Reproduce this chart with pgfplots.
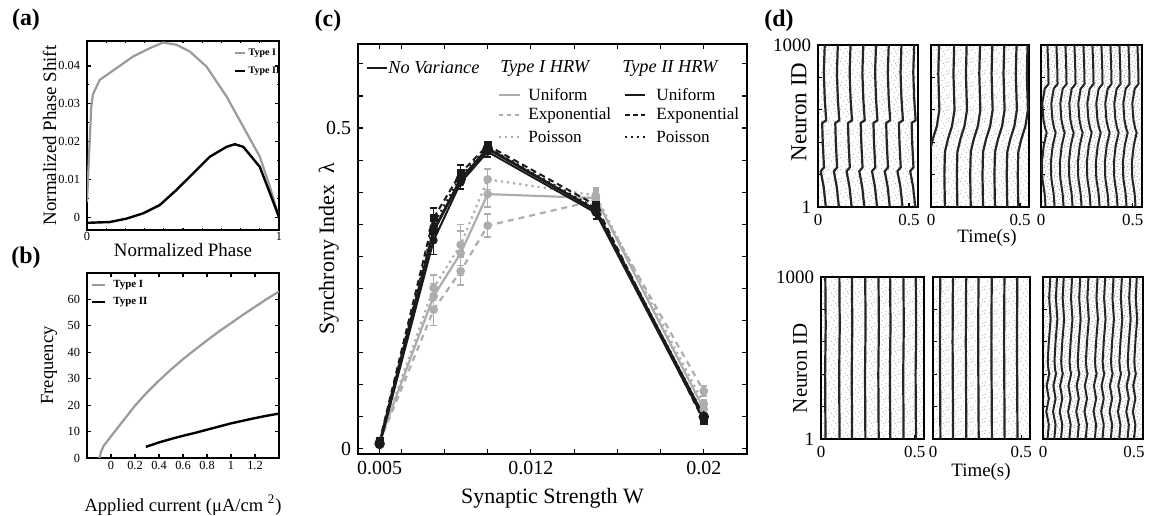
\documentclass[border=0pt]{standalone}
\usepackage{fontspec}
\setmainfont{Liberation Serif}
\usepackage{pgfplots}
\usepackage{pgfplotstable}
\pgfplotsset{compat=1.18}
\usetikzlibrary{patterns}

% background spike speckle for the raster panels
\pgfdeclarepatternformonly{spksparse}{\pgfpoint{-0.5bp}{-0.5bp}}{\pgfpoint{6.5bp}{6.5bp}}{\pgfpoint{6bp}{6bp}}{%
  \pgfpathcircle{\pgfpoint{0.6bp}{0.9bp}}{0.3bp}%
  \pgfpathcircle{\pgfpoint{3.1bp}{1.7bp}}{0.3bp}%
  \pgfpathcircle{\pgfpoint{5.3bp}{0.4bp}}{0.3bp}%
  \pgfpathcircle{\pgfpoint{1.7bp}{3.4bp}}{0.3bp}%
  \pgfpathcircle{\pgfpoint{4.4bp}{3.0bp}}{0.3bp}%
  \pgfpathcircle{\pgfpoint{0.3bp}{5.2bp}}{0.3bp}%
  \pgfpathcircle{\pgfpoint{2.8bp}{5.6bp}}{0.3bp}%
  \pgfpathcircle{\pgfpoint{5.0bp}{4.9bp}}{0.3bp}%
  \pgfpathcircle{\pgfpoint{3.7bp}{4.2bp}}{0.3bp}%
  \pgfusepath{fill}}
\pgfdeclarepatternformonly{spkdense}{\pgfpoint{-0.5bp}{-0.5bp}}{\pgfpoint{5.5bp}{5.5bp}}{\pgfpoint{5bp}{5bp}}{%
  \pgfpathcircle{\pgfpoint{0.5bp}{0.8bp}}{0.3bp}%
  \pgfpathcircle{\pgfpoint{2.2bp}{0.3bp}}{0.3bp}%
  \pgfpathcircle{\pgfpoint{4.1bp}{1.2bp}}{0.3bp}%
  \pgfpathcircle{\pgfpoint{1.3bp}{2.3bp}}{0.3bp}%
  \pgfpathcircle{\pgfpoint{3.0bp}{2.6bp}}{0.3bp}%
  \pgfpathcircle{\pgfpoint{4.7bp}{3.2bp}}{0.3bp}%
  \pgfpathcircle{\pgfpoint{0.4bp}{4.1bp}}{0.3bp}%
  \pgfpathcircle{\pgfpoint{2.1bp}{4.4bp}}{0.3bp}%
  \pgfpathcircle{\pgfpoint{3.7bp}{4.7bp}}{0.3bp}%
  \pgfpathcircle{\pgfpoint{2.6bp}{1.5bp}}{0.3bp}%
  \pgfusepath{fill}}

\definecolor{typeone}{HTML}{9A9A9A}
\definecolor{hrwone}{HTML}{ADADAD}
\definecolor{hrwtwo}{HTML}{1A1A1A}

\tikzset{keytext/.style={anchor=west, inner sep=0, font=\fontsize{8.6}{10}\selectfont}}

\pgfplotsset{
  /pgf/number format/assume math mode=true,
  frame/.style={scale only axis, tick align=inside, axis line style={line width=0.9bp},
    every tick/.style={black, line width=0.6bp}, scaled ticks=false},
  raster/.style={frame, xmin=0, xmax=0.55, ymin=1, ymax=1000,
    xtick={0,0.5}, xticklabels={0,0.5}, ytick={1,1000}, yticklabels={,},
    extra y ticks={200,400,600,800}, extra y tick labels={},
    xtick pos=bottom, ytick pos=left, major tick length=2bp,
    xticklabel style={font=\fontsize{8.5}{10}\selectfont},
    yticklabel style={font=\fontsize{9.5}{11}\selectfont},
    width=50bp, height=81bp},
  band/.style={black!85, line width=1.1bp, no markers, line join=round},
  t1/.style={hrwone, line width=1.1bp, mark=*, mark size=1.6bp, mark options={solid, fill=hrwone, draw=hrwone}},
  t2/.style={hrwtwo, line width=1bp, mark=*, mark size=1.5bp, mark options={solid, fill=hrwtwo, draw=hrwtwo}},
  ebar/.style={error bars/.cd, y dir=both, y explicit,
    error bar style={line width=0.8bp, solid},
    error mark options={rotate=90, mark size=1.6bp, line width=0.8bp, solid}},
}

% band shapes (time offset, neuron index) for the raster panels
\pgfplotstableread{
t n
0 1000
-0.005 830
0.000 670
0.008 535
-0.014 520
-0.011 400
-0.004 245
-0.022 222
-0.006 126
0.006 1
}\dA
\pgfplotstableread{
t n
0 1000
-0.004 820
0.002 600
-0.012 500
-0.035 420
-0.052 340
-0.055 200
-0.052 1
}\dB
\pgfplotstableread{
t n
0 1000
0.004 880
0.006 760
-0.015 730
-0.028 640
-0.022 540
-0.012 485
-0.004 460
-0.020 380
-0.030 280
-0.028 180
-0.015 80
-0.010 1
}\dC
\pgfplotstableread{
t n
0 1000
0.002 700
-0.001 400
0.001 1
}\dD
\pgfplotstableread{
t n
0 1000
-0.002 600
0.001 1
}\dE
\pgfplotstableread{
t n
0 1000
-0.006 870
0.002 740
-0.008 600
-0.014 480
-0.010 425
-0.005 405
-0.020 330
-0.008 250
-0.022 170
-0.008 90
-0.015 1
}\dF

\begin{document}
\begin{tikzpicture}
\useasboundingbox (0,0) rectangle (578.5bp,-258bp);

% panel letters
\node[font=\fontsize{12}{14}\selectfont\bfseries] at (13bp,-10bp) {(a)};
\node[font=\fontsize{12}{14}\selectfont\bfseries] at (13bp,-129bp) {(b)};
\node[font=\fontsize{12}{14}\selectfont\bfseries] at (164bp,-10.5bp) {(c)};
\node[font=\fontsize{12}{14}\selectfont\bfseries] at (389.5bp,-10.5bp) {(d)};

% (a) phase response curves
\begin{axis}[frame, at={(43.5bp,-20.5bp)}, anchor=north west, width=96bp, height=94.5bp,
  xmin=0, xmax=1, ymin=-0.0034, ymax=0.0466,
  xtick={0,1}, xticklabels={0,1},
  ytick={0,0.01,0.02,0.03,0.04}, yticklabels={0,0.01,0.02,0.03,0.04},
  minor x tick num=9, minor y tick num=1,
  major tick length=2bp, minor tick length=1.2bp,
  tick label style={font=\fontsize{6.2}{7}\selectfont},
  xticklabel style={inner sep=1bp},
  xlabel={Normalized Phase}, ylabel={Normalized Phase Shift},
  label style={font=\fontsize{9.5}{11}\selectfont},
  xlabel style={at={(axis description cs:0.5,-0.106)}, anchor=center},
  ylabel style={at={(axis description cs:-0.195,0.5)}, anchor=center},
]
\addplot[typeone, line width=1.1bp] coordinates {
 (0,0.004) (0.012,0.018) (0.022,0.029) (0.031,0.0325) (0.066,0.0363) (0.153,0.0394)
 (0.24,0.0425) (0.327,0.0447) (0.397,0.0462) (0.466,0.0456) (0.536,0.0438)
 (0.623,0.0398) (0.727,0.0319) (0.814,0.0239) (0.9,0.016) (0.953,0.008) (1,0.0)};
\addplot[black, line width=1.2bp] coordinates {
 (0,-0.0015) (0.118,-0.0013) (0.205,-0.0004) (0.292,0.001) (0.379,0.0032)
 (0.466,0.0072) (0.553,0.0116) (0.64,0.016) (0.727,0.0186) (0.77,0.0193)
 (0.814,0.0186) (0.9,0.0133) (0.953,0.0063) (1,0.0)};
\draw[typeone, line width=1bp] (rel axis cs:0.77,0.937) -- (rel axis cs:0.823,0.937);
\draw[black, line width=1.1bp] (rel axis cs:0.77,0.841) -- (rel axis cs:0.823,0.841);
\node[anchor=west, inner sep=0, font=\fontsize{5}{6}\selectfont\bfseries] at (rel axis cs:0.84,0.937) {Type I};
\node[anchor=west, inner sep=0, font=\fontsize{5}{6}\selectfont\bfseries] at (rel axis cs:0.84,0.841) {Type II};
\end{axis}

% (b) frequency versus applied current
\begin{axis}[frame, at={(43.5bp,-136.5bp)}, anchor=north west, width=96bp, height=92.5bp,
  xmin=-0.2, xmax=1.4, ymin=0, ymax=70,
  xtick={0,0.2,0.4,0.6,0.8,1,1.2}, xticklabels={0,0.2,0.4,0.6,0.8,1,1.2},
  ytick={0,10,20,30,40,50,60},
  major tick length=2bp,
  tick label style={font=\fontsize{6.2}{7}\selectfont},
  xticklabel style={inner sep=1.5bp},
  xlabel={Applied current (μA/cm \textsuperscript{2})}, ylabel={Frequency},
  label style={font=\fontsize{9.3}{11}\selectfont},
  xlabel style={at={(axis description cs:0.5,-0.254)}, anchor=center},
  ylabel style={at={(axis description cs:-0.198,0.5)}, anchor=center},
]
\addplot[typeone, line width=1.1bp] coordinates {
 (-0.1,0) (-0.092,0.6) (-0.085,2.1) (-0.064,4.4) (0,8.2) (0.1,14) (0.2,19.8)
 (0.3,24.8) (0.4,29.3) (0.5,33.5) (0.6,37.4) (0.7,41) (0.8,44.5) (0.9,47.9)
 (1.0,51) (1.1,54.2) (1.2,57.2) (1.3,60.2) (1.4,63)};
\addplot[black, line width=1.2bp] coordinates {
 (0.29,4.2) (0.4,5.9) (0.5,7.2) (0.6,8.4) (0.7,9.5) (0.8,10.7) (0.9,11.9)
 (1.0,13.1) (1.1,14.1) (1.2,15.1) (1.3,16) (1.4,16.8)};
\draw[typeone, line width=1bp] (rel axis cs:0.026,0.935) -- (rel axis cs:0.094,0.935);
\draw[black, line width=1.1bp] (rel axis cs:0.026,0.845) -- (rel axis cs:0.094,0.845);
\node[anchor=west, inner sep=0, font=\fontsize{5.5}{6.5}\selectfont\bfseries] at (rel axis cs:0.135,0.935) {Type I};
\node[anchor=west, inner sep=0, font=\fontsize{5.5}{6.5}\selectfont\bfseries] at (rel axis cs:0.135,0.845) {Type II};
\end{axis}

% (c) synchrony index versus synaptic strength
\begin{axis}[frame, at={(179bp,-22bp)}, anchor=north west, width=194.5bp, height=205bp,
  xmin=0.004, xmax=0.022, ymin=-0.008, ymax=0.631,
  xtick={0.005,0.006,0.008,0.010,0.012,0.014,0.016,0.018,0.020},
  xticklabels={0.005,,,,0.012,,,,0.02},
  ytick={0,0.05,0.1,0.15,0.2,0.25,0.3,0.35,0.4,0.45,0.5,0.55,0.6},
  yticklabels={0,,,,,,,,,,0.5,,},
  major tick length=2.5bp, axis line style={line width=1.1bp},
  tick label style={font=\fontsize{10}{12}\selectfont},
  xlabel={Synaptic Strength W}, ylabel={Synchrony Index\ \ λ},
  label style={font=\fontsize{11}{13}\selectfont},
  xlabel style={at={(axis description cs:0.5,-0.107)}, anchor=center},
  ylabel style={at={(axis description cs:-0.075,0.5)}, anchor=center},
]
% Type I HRW
\addplot[t1, dash pattern=on 3bp off 2.5bp, ebar] coordinates {
 (0.005,0.010) +- (0,0.004) (0.0075,0.217) +- (0,0.025) (0.00875,0.277) +- (0,0.022)
 (0.010,0.348) +- (0,0.018) (0.015,0.387) +- (0,0.014) (0.020,0.090) +- (0,0.008)};
\addplot[t1, dotted, ebar] coordinates {
 (0.005,0.013) +- (0,0.004) (0.0075,0.251) +- (0,0.02) (0.00875,0.318) +- (0,0.032)
 (0.010,0.420) +- (0,0.016) (0.015,0.395) +- (0,0.012) (0.020,0.070) +- (0,0.006)};
\addplot[t1, ebar] coordinates {
 (0.005,0.012) +- (0,0.004) (0.0075,0.238) +- (0,0.02) (0.00875,0.305) +- (0,0.035)
 (0.010,0.397) +- (0,0.02) (0.015,0.391) +- (0,0.012) (0.020,0.062) +- (0,0.006)};
% Type II HRW
\addplot[t2, dotted, mark=triangle*, ebar] coordinates {
 (0.005,0.010) +- (0,0.004) (0.0075,0.350) +- (0,0.015) (0.00875,0.425) +- (0,0.01)
 (0.010,0.470) +- (0,0.006) (0.015,0.375) +- (0,0.01) (0.020,0.052) +- (0,0.006)};
\addplot[t2, dash pattern=on 3bp off 2bp, mark=square*, ebar] coordinates {
 (0.005,0.012) +- (0,0.006) (0.0075,0.360) +- (0,0.015) (0.00875,0.430) +- (0,0.012)
 (0.010,0.473) +- (0,0.006) (0.015,0.380) +- (0,0.015) (0.020,0.043) +- (0,0.005)};
\addplot[t2, ebar] coordinates {
 (0.005,0.006) +- (0,0.004) (0.0075,0.325) +- (0,0.022) (0.00875,0.415) +- (0,0.01)
 (0.010,0.463) +- (0,0.008) (0.015,0.368) +- (0,0.01) (0.020,0.046) +- (0,0.006)};
% no variance
\addplot[t2, line width=1.4bp, mark size=1.9bp] coordinates {
 (0.005,0.008) (0.0075,0.340) (0.00875,0.420) (0.010,0.468) (0.015,0.372) (0.020,0.050)};
% key
\draw[hrwtwo, line width=1.2bp] (rel axis cs:0.023,0.9415) -- (rel axis cs:0.074,0.9415);
\node[anchor=west, inner sep=0, font=\fontsize{9.2}{11}\selectfont\itshape] at (rel axis cs:0.077,0.9415) {No Variance};
\node[inner sep=0, font=\fontsize{9.2}{11}\selectfont\itshape] at (rel axis cs:0.48,0.9415) {Type I HRW};
\node[inner sep=0, font=\fontsize{9.2}{11}\selectfont\itshape] at (rel axis cs:0.802,0.9415) {Type II HRW};
\draw[hrwone, line width=1bp] (rel axis cs:0.362,0.876) -- (rel axis cs:0.416,0.876);
\draw[hrwone, line width=1bp, dash pattern=on 2.2bp off 1.8bp] (rel axis cs:0.362,0.827) -- (rel axis cs:0.416,0.827);
\draw[hrwone, line width=1bp, dotted] (rel axis cs:0.362,0.774) -- (rel axis cs:0.416,0.774);
\draw[hrwtwo, line width=1.1bp] (rel axis cs:0.687,0.876) -- (rel axis cs:0.738,0.876);
\draw[hrwtwo, line width=1.1bp, dash pattern=on 2.2bp off 1.8bp] (rel axis cs:0.687,0.827) -- (rel axis cs:0.738,0.827);
\draw[hrwtwo, line width=1bp, dotted] (rel axis cs:0.687,0.774) -- (rel axis cs:0.738,0.774);
\node[keytext] at (rel axis cs:0.437,0.876) {Uniform};
\node[keytext] at (rel axis cs:0.437,0.827) {Exponential};
\node[keytext] at (rel axis cs:0.437,0.774) {Poisson};
\node[keytext] at (rel axis cs:0.766,0.876) {Uniform};
\node[keytext] at (rel axis cs:0.766,0.827) {Exponential};
\node[keytext] at (rel axis cs:0.766,0.774) {Poisson};
\end{axis}

% (d) spike rasters, top row
\begin{axis}[raster, at={(409bp,-22.5bp)}, anchor=north west, yticklabels={1,1000},
  axis background/.style={pattern=spksparse, pattern color=black!32}]
\pgfplotsinvokeforeach{0.037,0.109,0.179,0.249,0.319,0.389,0.459,0.529}{
  \addplot[band] table[x expr=\thisrow{t}+#1, y=n]{\dA};}
\end{axis}
\begin{axis}[raster, at={(465.5bp,-22.5bp)}, anchor=north west, width=49bp,
  axis background/.style={pattern=spksparse, pattern color=black!32}]
\pgfplotsinvokeforeach{0.045,0.13,0.2,0.275,0.344,0.411,0.48,0.542}{
  \addplot[band] table[x expr=\thisrow{t}+#1, y=n]{\dB};}
\end{axis}
\begin{axis}[raster, at={(520.5bp,-22.5bp)}, anchor=north west, width=50.5bp,
  axis background/.style={pattern=spkdense, pattern color=black!40}]
\pgfplotsinvokeforeach{0.035,0.084,0.133,0.182,0.231,0.28,0.329,0.378,0.427,0.476,0.525}{
  \addplot[band, line width=1bp] table[x expr=\thisrow{t}+#1, y=n]{\dC};}
\end{axis}
\node[rotate=90, font=\fontsize{11.5}{13}\selectfont] at (399.5bp,-56bp) {Neuron ID};
\node[font=\fontsize{9.5}{11}\selectfont] at (493.5bp,-119bp) {Time(s)};

% (d) spike rasters, bottom row
\begin{axis}[raster, at={(410.5bp,-138.5bp)}, anchor=north west, width=51.5bp, yticklabels={1,1000},
  axis background/.style={pattern=spksparse, pattern color=black!32}]
\pgfplotsinvokeforeach{0.023,0.098,0.165,0.236,0.307,0.369,0.44,0.506}{
  \addplot[band] table[x expr=\thisrow{t}+#1, y=n]{\dD};}
\end{axis}
\begin{axis}[raster, at={(466.5bp,-138.5bp)}, anchor=north west, width=48.5bp,
  axis background/.style={pattern=spksparse, pattern color=black!32}]
\pgfplotsinvokeforeach{0.041,0.113,0.188,0.258,0.333,0.405,0.478}{
  \addplot[band] table[x expr=\thisrow{t}+#1, y=n]{\dE};}
\end{axis}
\begin{axis}[raster, at={(521.5bp,-138.5bp)}, anchor=north west, width=50bp,
  axis background/.style={pattern=spkdense, pattern color=black!40}]
\pgfplotsinvokeforeach{0.04,0.077,0.114,0.16,0.205,0.25,0.3,0.342,0.388,0.434,0.48,0.516}{
  \addplot[band, line width=1bp] table[x expr=\thisrow{t}+#1, y=n]{\dF};}
\end{axis}
\node[rotate=90, font=\fontsize{10.5}{12}\selectfont] at (400bp,-184bp) {Neuron ID};
\node[font=\fontsize{9.5}{11}\selectfont] at (490.5bp,-236bp) {Time(s)};
\end{tikzpicture}
\end{document}
